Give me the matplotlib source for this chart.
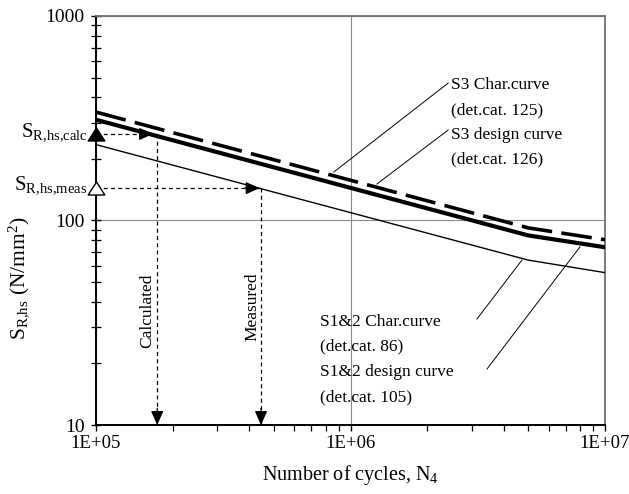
import matplotlib
matplotlib.use('Agg')
import matplotlib.pyplot as plt
from matplotlib.ticker import LogLocator, NullFormatter
from matplotlib.path import Path

plt.rcParams['font.family'] = ['Liberation Serif', 'DejaVu Serif']
plt.rcParams['mathtext.fontset'] = 'custom'
plt.rcParams['mathtext.rm'] = 'Liberation Serif'
plt.rcParams['mathtext.it'] = 'Liberation Serif:italic'
plt.rcParams['mathtext.bf'] = 'Liberation Serif:bold'

# ---- data ----
cycles = [1e5, 5e6, 1e7]
s3_char = [339, 92, 80.5]       # dashed, det.cat. 125
s3_design = [311, 84.5, 74]     # thick solid, det.cat. 126
s12_curve = [235, 64, 55.6]     # thin solid

calc_N, calc_S = 1.74e5, 265
meas_N, meas_S = 4.45e5, 144

xticks = [1e5, 1e6, 1e7]
xticklabels = ['1E+05', '1E+06', '1E+07']
yticks = [10, 100, 1000]
yticklabels = ['10', '100', '1000']

upper_labels = ['S3 Char.curve', '(det.cat. 125)', 'S3 design curve', '(det.cat. 126)']
upper_x = 2.48e6
upper_y = [460, 347, 262, 198]
lower_labels = ['S1&2 Char.curve', '(det.cat. 86)', 'S1&2 design curve', '(det.cat. 105)']
lower_x = 7.6e5
lower_y = [31.9, 24.1, 18.2, 13.7]

# leader lines: (text end, curve end)
leaders = [((2.42e6, 470), (8.6e5, 172.6)),
           ((2.42e6, 277), (1.27e6, 150.8)),
           ((3.14e6, 33.0), (4.72e6, 64.1)),
           ((3.44e6, 18.8), (7.98e6, 74.4))]

fig = plt.figure(figsize=(6.29, 4.94), dpi=100)
ax = fig.add_axes([96/629, 69/494, 509/629, 409/494])
ax.set_xscale('log')
ax.set_yscale('log')
ax.set_xlim(1e5, 1e7)
ax.set_ylim(10, 1000)

ax.grid(True, which='major', color='#8a8a8a', lw=0.8)
ax.set_axisbelow(True)

ax.plot(cycles, s3_char, color='black', lw=2.6, ls=(0, (8.5, 2.6)), solid_capstyle='butt', zorder=3)
ax.plot(cycles, s3_design, color='black', lw=3.0, zorder=3)
ax.plot(cycles, s12_curve, color='black', lw=1.0, zorder=3)

# leader lines
for (p0, p1) in leaders:
    ax.plot([p0[0], p1[0]], [p0[1], p1[1]], color='black', lw=0.7, zorder=2)

# dashed arrows
dash = (0, (3.2, 2.6))
akw = dict(color='black', lw=0.9, ls=dash, zorder=4)
ax.plot([1e5, calc_N], [calc_S, calc_S], **akw)
ax.plot([calc_N, calc_N], [calc_S, 10], **akw)
ax.plot([1e5, meas_N], [meas_S, meas_S], **akw)
ax.plot([meas_N, meas_N], [meas_S, 10], **akw)


def head(x, y, dx, dy, shrink=0):
    ax.annotate('', xy=(x, y), xytext=(dx, dy), textcoords='offset points',
                arrowprops=dict(arrowstyle='-|>,head_length=0.85,head_width=0.38',
                                color='black', lw=0.9, shrinkA=0, shrinkB=shrink),
                annotation_clip=False, zorder=5)


head(calc_N, calc_S, -12, 0, shrink=3)
head(meas_N, meas_S, -12, 0, shrink=1)
head(calc_N, 10, 0, 12)
head(meas_N, 10, 0, 12)

# triangle markers on the axis
tri = Path([(-1, -0.78), (1, -0.78), (0, 0.78), (-1, -0.78)],
           [Path.MOVETO, Path.LINETO, Path.LINETO, Path.CLOSEPOLY])
ax.plot([1e5], [calc_S], marker=tri, ms=12, color='black', clip_on=False, zorder=6, ls='none')
ax.plot([1e5], [meas_S], marker=tri, ms=12, mfc='white', mec='black', mew=1.0,
        clip_on=False, zorder=6, ls='none')

ax.annotate(r'$\mathrm{S_{R{,}hs{,}calc}}$', xy=(0, calc_S), xycoords=('axes fraction', 'data'),
            xytext=(-6, 1), textcoords='offset points', ha='right', va='center', fontsize=15)
ax.annotate(r'$\mathrm{S_{R{,}hs{,}meas}}$', xy=(0, meas_S), xycoords=('axes fraction', 'data'),
            xytext=(-6, 2), textcoords='offset points', ha='right', va='center', fontsize=15)

# vertical texts
ax.text(1.586e5, 36.1, 'Calculated', rotation=90, ha='center', va='center', fontsize=12.5)
ax.text(4.1e5, 37.8, 'Measured', rotation=90, ha='center', va='center', fontsize=12.5)

for lab, yy in zip(upper_labels, upper_y):
    ax.text(upper_x, yy, lab, ha='left', va='center', fontsize=12.5)
for lab, yy in zip(lower_labels, lower_y):
    ax.text(lower_x, yy, lab, ha='left', va='center', fontsize=12.5)

# ticks
ax.set_xticks(xticks)
ax.set_xticklabels(xticklabels)
ax.set_yticks(yticks)
ax.set_yticklabels(yticklabels)
ax.xaxis.set_minor_locator(LogLocator(base=10, subs=range(2, 10)))
ax.yaxis.set_minor_locator(LogLocator(base=10, subs=range(2, 10)))
ax.xaxis.set_minor_formatter(NullFormatter())
ax.yaxis.set_minor_formatter(NullFormatter())
ax.tick_params(axis='x', which='major', direction='out', length=4.5, width=1, pad=3, labelsize=13.5)
ax.tick_params(axis='x', which='minor', direction='out', length=4, width=0.9)
ax.tick_params(axis='y', which='major', direction='inout', length=7.5, width=1, pad=4.5, labelsize=14)
ax.tick_params(axis='y', which='minor', direction='inout', length=7, width=0.9)

for s in ['left', 'bottom']:
    ax.spines[s].set_color('black')
    ax.spines[s].set_linewidth(1.4)
for s in ['top', 'right']:
    ax.spines[s].set_color('#707070')
    ax.spines[s].set_linewidth(1.3)

ax.set_xlabel(r'Number of cycles, N$_4$', fontsize=14.5, labelpad=7.5)
ax.set_ylabel(r'$\mathrm{S_{R{,}hs}}$ (N/mm$^2$)', fontsize=15.5)
ax.yaxis.set_label_coords(-0.125, 0.36)

fig.savefig('out.png', dpi=100)
